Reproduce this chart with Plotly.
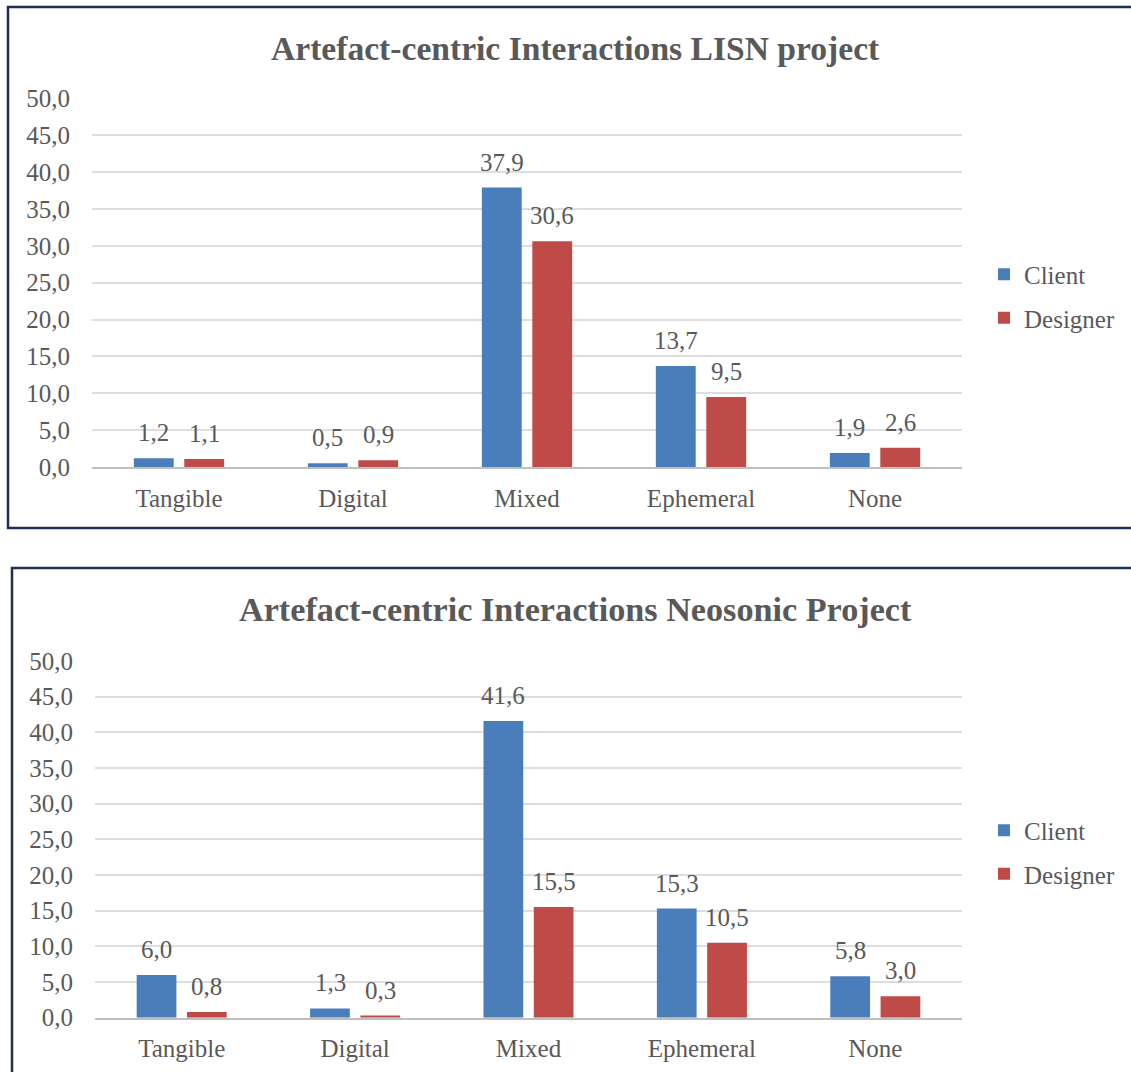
import plotly.graph_objects as go

categories = ["Tangible", "Digital", "Mixed", "Ephemeral", "None"]
lisn_client = [1.2, 0.5, 37.9, 13.7, 1.9]
lisn_designer = [1.1, 0.9, 30.6, 9.5, 2.6]
neo_client = [6.0, 1.3, 41.6, 15.3, 5.8]
neo_designer = [0.8, 0.3, 15.5, 10.5, 3.0]
title_top = "Artefact-centric Interactions LISN project"
title_bottom = "Artefact-centric Interactions Neosonic Project"

W, H = 1131, 1072
BLUE = "#4A7EBB"
RED = "#BE4B48"
TXT = "#595959"
FONT = "Liberation Serif"


def px(x):
    return x / W


def py(y):
    return 1 - y / H


def fmt(v):
    return f"{v:.1f}".replace(".", ",")


fig = go.Figure()

series = [
    ("Client", lisn_client, BLUE, "c", "x", "y", "legend", -25.2),
    ("Designer", lisn_designer, RED, "d", "x", "y", "legend", 25.2),
    ("Client", neo_client, BLUE, "c", "x2", "y2", "legend2", -25.1),
    ("Designer", neo_designer, RED, "d", "x2", "y2", "legend2", 25.1),
]

annotations = []
for name, vals, col, lg, xa, ya, leg, shift in series:
    fig.add_trace(go.Bar(
        x=categories, y=vals, name=name, marker_color=col,
        marker_line_width=0, xaxis=xa, yaxis=ya, legend=leg,
        legendgroup=lg, hoverinfo="x+y+name",
    ))
    for c, v in zip(categories, vals):
        annotations.append(dict(
            x=c, y=v, xref=xa, yref=ya, text=fmt(v), showarrow=False,
            xanchor="center", yanchor="bottom", xshift=shift, yshift=10,
            font=dict(family=FONT, size=25, color=TXT),
        ))

annotations += [
    dict(text="<b>" + title_top + "</b>", xref="paper", yref="paper",
         x=px(575), y=py(48), xanchor="center", yanchor="middle",
         showarrow=False, font=dict(family=FONT, size=33.6, color=TXT)),
    dict(text="<b>" + title_bottom + "</b>", xref="paper", yref="paper",
         x=px(575), y=py(609), xanchor="center", yanchor="middle",
         showarrow=False, font=dict(family=FONT, size=34.2, color=TXT)),
]

yax = dict(range=[0, 50], dtick=5, tickformat=".1f", showgrid=True,
           gridcolor="#DEDEDE", gridwidth=1.5, zeroline=False, showline=False,
           ticks="", ticklabelstandoff=21, automargin=False,
           tickfont=dict(family=FONT, size=25, color=TXT), fixedrange=True)
xax = dict(showline=True, linecolor="#BFBFBF", linewidth=1.5, ticks="",
           ticklabelstandoff=8, showgrid=False, automargin=False,
           tickfont=dict(family=FONT, size=25, color=TXT))

legend_common = dict(
    font=dict(family=FONT, size=25, color=TXT), bgcolor="rgba(0,0,0,0)",
    itemwidth=30, tracegroupgap=8, traceorder="grouped",
    xanchor="left", yanchor="middle",
)

fig.update_layout(
    width=W, height=H, autosize=False,
    margin=dict(l=0, r=0, t=0, b=0, pad=0),
    paper_bgcolor="white", plot_bgcolor="white",
    separators=",.",
    barmode="group", bargap=0.42, bargroupgap=0.21,
    showlegend=True,
    xaxis=dict(domain=[px(92), px(962)], anchor="y", **xax),
    yaxis=dict(domain=[py(467), py(98.3)], anchor="x", **yax),
    xaxis2=dict(domain=[px(95), px(962)], anchor="y2", **xax),
    yaxis2=dict(domain=[py(1017.7), py(661)], anchor="x2", **yax),
    legend=dict(x=px(984), y=py(296), **legend_common),
    legend2=dict(x=px(984), y=py(852), **legend_common),
    shapes=[
        dict(type="rect", xref="paper", yref="paper",
             x0=px(8), x1=px(1140), y0=py(528), y1=py(7),
             line=dict(color="#1F2D5A", width=2.5), fillcolor="rgba(0,0,0,0)"),
        dict(type="rect", xref="paper", yref="paper",
             x0=px(12), x1=px(1140), y0=py(1090), y1=py(568),
             line=dict(color="#1F2D5A", width=2.5), fillcolor="rgba(0,0,0,0)"),
    ],
    annotations=annotations,
)

fig.write_html("out.html", config={"displayModeBar": False},
               post_script="document.body.style.margin='0';document.body.style.overflow='hidden';")
